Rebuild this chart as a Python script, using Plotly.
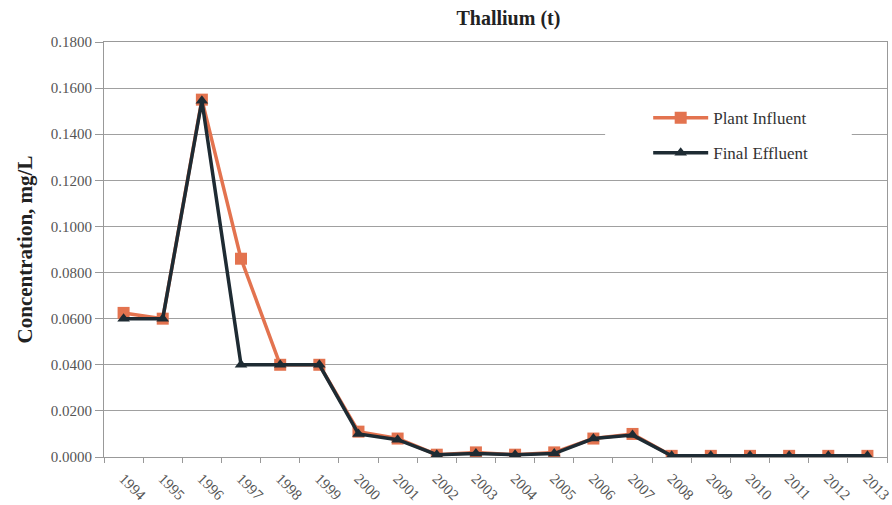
import plotly.graph_objects as go

years = [str(y) for y in range(1994, 2014)]
plant_influent = [0.0625, 0.0600, 0.1550, 0.0860, 0.0400, 0.0400, 0.0110, 0.0080,
                  0.0010, 0.0020, 0.0010, 0.0020, 0.0080, 0.0100, 0.0005, 0.0005,
                  0.0005, 0.0005, 0.0005, 0.0005]
final_effluent = [0.0600, 0.0600, 0.1545, 0.0400, 0.0400, 0.0400, 0.0100, 0.0075,
                  0.0010, 0.0015, 0.0010, 0.0015, 0.0080, 0.0095, 0.0005, 0.0005,
                  0.0005, 0.0005, 0.0005, 0.0005]
y_ticks = [0.0, 0.02, 0.04, 0.06, 0.08, 0.10, 0.12, 0.14, 0.16, 0.18]

SERIF = "Liberation Serif, Times New Roman, serif"
INF_COLOR = "#E3734F"
EFF_COLOR = "#1E2B33"

fig = go.Figure()
fig.add_trace(go.Scatter(
    x=years, y=plant_influent, name="Plant Influent", mode="lines+markers",
    legendgroup="a",
    line=dict(color=INF_COLOR, width=3.5),
    marker=dict(symbol="square", size=12, color=INF_COLOR),
))
fig.add_trace(go.Scatter(
    x=years, y=final_effluent, name="Final Effluent", mode="lines+markers",
    legendgroup="b",
    line=dict(color=EFF_COLOR, width=3.5),
    marker=dict(symbol="triangle-up", size=11, color=EFF_COLOR),
))

# white box behind the legend, hiding the gridlines there
fig.add_shape(type="rect", xref="paper", yref="paper",
              x0=0.64, x1=0.955, y0=0.69, y1=0.875,
              fillcolor="white", line=dict(width=0), layer="above")

fig.update_layout(
    width=892, height=505,
    margin=dict(l=104, r=5, t=42, b=48),
    paper_bgcolor="white", plot_bgcolor="white",
    title=dict(text="<b>Thallium (t)</b>", x=0.57, xanchor="center",
               y=0.965, yanchor="middle",
               font=dict(family=SERIF, size=20, color="#222")),
    font=dict(family=SERIF, color="#555"),
    legend=dict(x=0.695, y=0.86, xanchor="left", yanchor="top",
                bgcolor="rgba(0,0,0,0)", tracegroupgap=10, itemwidth=55,
                font=dict(family=SERIF, size=17, color="#333")),
    showlegend=True,
)
fig.update_xaxes(
    type="category", range=[-0.5, len(years) - 0.5], automargin=False,
    tickangle=45, tickson="boundaries", ticks="outside", ticklen=5,
    tickcolor="#999", tickfont=dict(family=SERIF, size=15, color="#555"),
    ticklabelstandoff=6,
    showline=True, linecolor="#999", linewidth=1, mirror=True,
    showgrid=False,
)
fig.update_yaxes(
    range=[0, 0.18], tickvals=y_ticks, tickformat=".4f", automargin=False,
    ticks="outside", ticklen=8, tickcolor="#999",
    tickfont=dict(family=SERIF, size=15, color="#555"),
    showgrid=True, gridcolor="#A0A0A0", gridwidth=1,
    showline=True, linecolor="#999", linewidth=1, mirror=True,
    zeroline=False,
    title=dict(text="<b>Concentration, mg/L</b>", standoff=12,
               font=dict(family=SERIF, size=21, color="#222")),
)

fig.write_html("out.html")
